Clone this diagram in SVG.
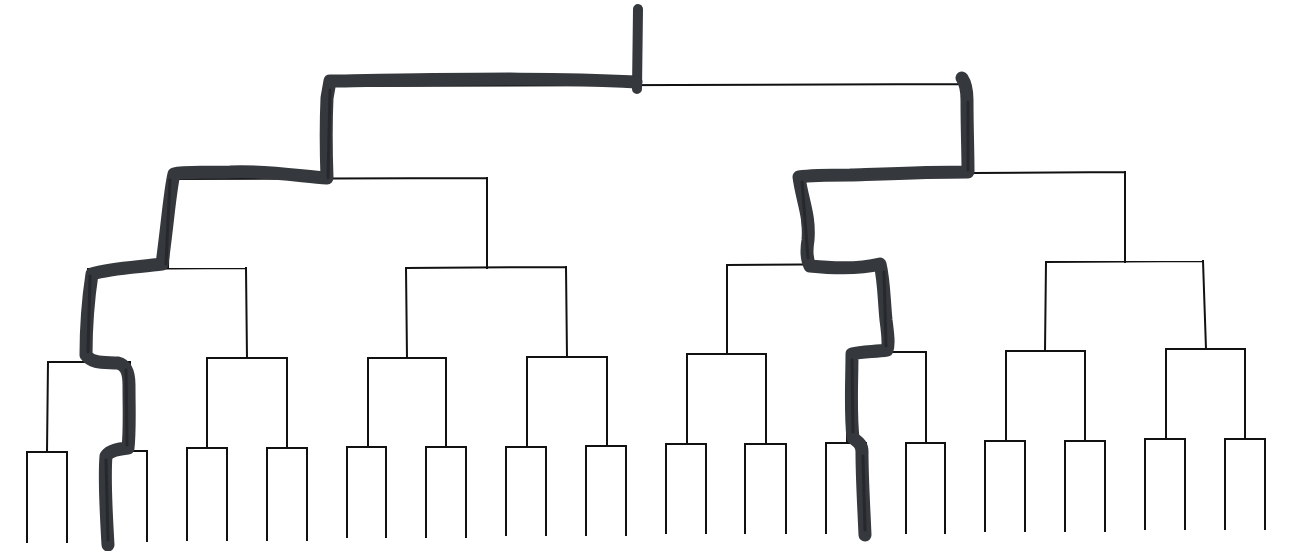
<svg xmlns="http://www.w3.org/2000/svg" width="1297" height="551" viewBox="0 0 1297 551">
<style>
.t{fill:none;stroke:#111;stroke-width:2;stroke-linecap:square;stroke-linejoin:miter}
.hl{fill:none;stroke:#35383d;stroke-width:13;stroke-linecap:round;stroke-linejoin:round}
.hl2{fill:none;stroke:#1c1e22;stroke-width:3;stroke-linecap:round;stroke-linejoin:round;opacity:0.6}
</style>
<rect width="1297" height="551" fill="#fff"/>
<g id="connectors">
<g id="root"><path class="t" d="M637,10 L637,86 M328,86 L964,84 M328,86 L328,178 M964,84 L964,173"/></g>
<g id="n-L"><path class="t" d="M170,179 L487,178 M170,179 L168,268 M487,178 L487,268"/></g>
<g id="n-R"><path class="t" d="M800,174 L1125,172 M800,174 L805,265 M1125,172 L1125,262"/></g>
<g id="n-LL"><path class="t" d="M88,269 L246,268 M88,269 L88,362 M246,268 L247,358"/></g>
<g id="n-LR"><path class="t" d="M406,268 L566,267 M406,268 L407,358 M566,267 L567,357"/></g>
<g id="n-RL"><path class="t" d="M727,265 L884,264 M727,265 L727,354 M884,264 L887,352"/></g>
<g id="n-RR"><path class="t" d="M1046,262 L1203,261 M1046,262 L1045,351 M1203,261 L1206,349"/></g>
<g id="n-LLL"><path class="t" d="M48,362 L130,362 M48,362 L47,452 M130,362 L128,451"/></g>
<g id="n-LLR"><path class="t" d="M207,358 L287,358 M207,358 L207,448 M287,358 L287,448"/></g>
<g id="n-LRL"><path class="t" d="M368,358 L446,358 M368,358 L368,447 M446,358 L446,447"/></g>
<g id="n-LRR"><path class="t" d="M527,357 L607,357 M527,357 L527,447 M607,357 L607,446"/></g>
<g id="n-RLL"><path class="t" d="M687,354 L766,354 M687,354 L687,444 M766,354 L766,444"/></g>
<g id="n-RLR"><path class="t" d="M847,352 L926,352 M847,352 L847,443 M926,352 L926,443"/></g>
<g id="n-RRL"><path class="t" d="M1006,351 L1085,351 M1006,351 L1006,441 M1085,351 L1085,441"/></g>
<g id="n-RRR"><path class="t" d="M1166,349 L1245,349 M1166,349 L1166,439 M1245,349 L1245,439"/></g>
<g id="leaves1"><path class="t" d="M27,452 L67,452 M27,452 L27,542 M67,452 L67,542"/></g>
<g id="leaves2"><path class="t" d="M107,451 L147,451 M107,451 L107,541 M147,451 L147,541"/></g>
<g id="leaves3"><path class="t" d="M187,448 L227,448 M187,448 L187,540 M227,448 L227,540"/></g>
<g id="leaves4"><path class="t" d="M267,448 L307,448 M267,448 L267,540 M307,448 L307,540"/></g>
<g id="leaves5"><path class="t" d="M347,447 L386,447 M347,447 L347,537 M386,447 L386,537"/></g>
<g id="leaves6"><path class="t" d="M426,447 L466,447 M426,447 L426,537 M466,447 L466,537"/></g>
<g id="leaves7"><path class="t" d="M506,447 L546,447 M506,447 L506,535 M546,447 L546,535"/></g>
<g id="leaves8"><path class="t" d="M586,446 L626,446 M586,446 L586,535 M626,446 L626,535"/></g>
<g id="leaves9"><path class="t" d="M666,444 L706,444 M666,444 L666,533 M706,444 L706,533"/></g>
<g id="leaves10"><path class="t" d="M745,444 L786,444 M745,444 L745,533 M786,444 L786,533"/></g>
<g id="leaves11"><path class="t" d="M826,443 L866,443 M826,443 L826,533 M866,443 L866,533"/></g>
<g id="leaves12"><path class="t" d="M906,443 L945,443 M906,443 L906,533 M945,443 L945,533"/></g>
<g id="leaves13"><path class="t" d="M985,441 L1025,441 M985,441 L985,531 M1025,441 L1025,531"/></g>
<g id="leaves14"><path class="t" d="M1065,441 L1105,441 M1065,441 L1065,531 M1105,441 L1105,531"/></g>
<g id="leaves15"><path class="t" d="M1145,439 L1185,439 M1145,439 L1145,529 M1185,439 L1185,529"/></g>
<g id="leaves16"><path class="t" d="M1225,439 L1265,439 M1225,439 L1225,529 M1265,439 L1265,529"/></g>
</g>
<g id="highlight-left">
<path class="hl" d="M638,9 L637,89" style="stroke-width:10"/>
<path class="hl" d="M636,82 C560,78 480,79 400,80 C370,80 345,81 330,81 L327,98 C326,120 326,150 327,178 C300,176 260,170 230,172 C205,173 185,171 174,174 C170,190 168,220 162,264 C140,267 110,268 92,274 C88,300 86,330 86,355 C92,364 105,362 118,363 C126,365 129,372 129,385 C129,410 130,430 128,448 C118,449 110,450 106,456 C104,480 106,510 108,545"/>
<path class="hl2" d="M330,90 L328,178 M170,180 L166,264 M90,276 L88,352 M126,370 L127,445 M106,460 L108,540"/>
</g>
<g id="highlight-right">
<path class="hl" d="M962,78 C966,84 967,90 967,100 C967,130 968,150 968,172 C930,172 880,174 850,175 C830,175 812,175 799,177 C802,200 810,215 808,240 C806,252 807,260 810,266 C830,268 860,269 880,264 C884,280 884,300 886,320 C888,335 889,345 887,350 C875,352 862,351 852,354 C852,380 850,410 853,438 C858,442 862,444 862,452 C862,480 864,510 865,535"/>
<path class="hl2" d="M968,102 L968,170 M802,182 L808,258 M884,272 L886,346 M852,360 L853,432 M863,456 L865,530"/>
</g>
</svg>
